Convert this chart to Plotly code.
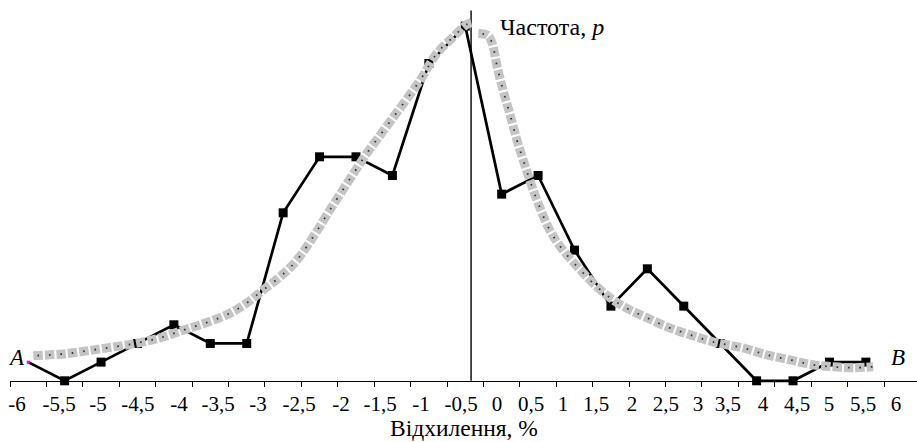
import plotly.graph_objects as go

# ---------------- data ----------------
# histogram bin centres (deviation, %)
bin_centers = [-5.75, -5.25, -4.75, -4.25, -3.75, -3.25, -2.75, -2.25, -1.75, -1.25, -0.75, -0.25,
               0.25, 0.75, 1.25, 1.75, 2.25, 2.75, 3.25, 3.75, 4.25, 4.75, 5.25, 5.75]
# observed frequencies
freq = [1, 0, 1, 2, 3, 2, 2, 9, 12, 12, 11, 17,
        19, 10, 11, 7, 4, 6, 4, 2, 0, 0, 1, 1]

# fitted (theoretical) curve, left branch
fit_left_x = [-5.68, -5.22, -4.76, -4.31, -3.94, -3.63, -3.30, -2.98, -2.75, -2.53, -2.29,
              -2.06, -1.84, -1.61, -1.37, -1.10, -0.76, -0.37, -0.14, 0.08, 0.27, 0.34]
fit_left_y = [1.34, 1.46, 1.71, 1.98, 2.30, 2.70, 3.12, 3.62, 4.17, 4.85, 5.58,
              6.47, 7.70, 9.14, 10.59, 12.19, 14.0, 16.10, 17.54, 18.40, 19.09, 19.20]
# fitted curve, right branch
fit_right_x = [0.43, 0.56, 0.62, 0.69, 0.77, 0.86, 0.96, 1.06, 1.15, 1.25, 1.41, 1.59, 1.83,
               2.06, 2.28, 2.51, 2.75, 3.02, 3.34, 3.65, 4.06, 4.39, 4.71, 5.02, 5.30, 5.57, 5.85]
fit_right_y = [18.61, 18.50, 18.07, 16.79, 15.56, 14.33, 12.89, 11.65, 10.59, 9.52, 8.07, 7.01, 5.94,
               5.03, 4.33, 3.80, 3.37, 2.89, 2.46, 2.09, 1.76, 1.39, 1.12, 0.86, 0.75, 0.70, 0.75]

# vertical reference (frequency axis)
vline_x = 0.33
vline_top = 19.84

# x axis tick marks and (hand-placed) labels
tick_vals = [-6, -5.5, -5, -4.5, -4, -3.5, -3, -2.5, -2, -1.5, -1, -0.5, 0,
             0.5, 1, 1.5, 2, 2.5, 3, 3.5, 4, 4.5, 5, 5.5, 6]
tick_labels = ["-6", "-5,5", "-5", "-4,5", "-4", "-3,5", "-3", "-2,5", "-2", "-1,5", "-1", "-0,5", "0",
               "0,5", "1", "1,5", "2", "2,5", "3", "3,5", "4", "4,5", "5", "5,5", "6"]
label_pos = [-5.904, -5.327, -4.792, -4.243, -3.680, -3.144, -2.595, -2.032, -1.456, -0.920, -0.357,
             0.192, 0.686, 1.153, 1.592, 2.045, 2.539, 3.006, 3.445, 3.857, 4.338, 4.805, 5.244, 5.711, 6.164]

FONT = "Liberation Serif"
Y_RANGE = [-0.6, 20.4]
X_RANGE = [-6, 6.452]
AX_POS = (0 - Y_RANGE[0]) / (Y_RANGE[1] - Y_RANGE[0])  # domain fraction where y = 0

fig = go.Figure()

# data subplot (x, y)
n = len(freq)
fig.add_trace(go.Scatter(
    x=bin_centers, y=freq, mode="lines+markers",
    line=dict(color="black", width=2.7),
    marker=dict(symbol="square", size=[3] + [9] * (n - 1),
                color=["#ff00ff"] + ["black"] * (n - 1),
                opacity=1, line=dict(width=0)),
    cliponaxis=False, hoverinfo="skip"))

for gx, gy in [(fit_left_x, fit_left_y), (fit_right_x, fit_right_y)]:
    fig.add_trace(go.Scatter(
        x=gx, y=gy, mode="lines",
        line=dict(color="#c4c4c4", width=9, dash="9.5px,2px", shape="spline", smoothing=1.0),
        hoverinfo="skip"))
    fig.add_trace(go.Scatter(
        x=gx, y=gy, mode="lines",
        line=dict(color="#333333", width=1.8, dash="0px,4px,1.6px,5.9px", shape="spline", smoothing=1.0),
        hoverinfo="skip"))

# invisible traces carrying the axis subplot (x3/y2) and its label axis (x4)
fig.add_trace(go.Scatter(x=[tick_vals[0]], y=[0], xaxis="x3", yaxis="y2", mode="markers",
                         marker=dict(opacity=0), hoverinfo="skip"))
fig.add_trace(go.Scatter(x=[label_pos[0]], y=[0], xaxis="x4", yaxis="y2", mode="markers",
                         marker=dict(opacity=0), hoverinfo="skip"))

fig.add_shape(type="line", x0=vline_x, x1=vline_x, y0=0, y1=vline_top,
              xref="x", yref="y", line=dict(color="black", width=1.4), layer="below")

fig.update_layout(
    width=917, height=442,
    margin=dict(l=10, r=0, t=0, b=50, pad=0),
    plot_bgcolor="rgba(0,0,0,0)", paper_bgcolor="white",
    showlegend=False,
    font=dict(family=FONT, color="black", size=21),
    xaxis=dict(range=X_RANGE, visible=False, domain=[0, 1]),
    yaxis=dict(range=Y_RANGE, visible=False, domain=[0, 1]),
    xaxis3=dict(range=X_RANGE, anchor="y2", domain=[0, 1], automargin=False,
                showline=True, linecolor="black", linewidth=1.2,
                ticks="outside", ticklen=5, tickwidth=1, tickcolor="black",
                tickvals=tick_vals, showticklabels=False,
                showgrid=False, zeroline=False),
    xaxis4=dict(range=X_RANGE, overlaying="x3", anchor="y2", automargin=False,
                showline=False, ticks="", tickvals=label_pos, ticktext=tick_labels,
                tickfont=dict(family=FONT, size=21, color="black"),
                ticklabelstandoff=8,
                showgrid=False, zeroline=False),
    yaxis2=dict(range=[0, 1], visible=False, domain=[AX_POS, 1], anchor="x3"),
)

fig.add_annotation(text="Відхилення, %", xref="paper", yref="paper", x=0.5, y=-0.0918,
                   xanchor="center", yanchor="middle", showarrow=False,
                   font=dict(family=FONT, size=23.5, color="black"))
fig.add_annotation(text="Частота, <i>p</i>", xref="x", yref="y", x=0.70, y=18.95,
                   xanchor="left", yanchor="middle", showarrow=False,
                   font=dict(family=FONT, size=24, color="black"))
fig.add_annotation(text="<i>A</i>", xref="x", yref="y", x=-5.904, y=1.27,
                   xanchor="center", yanchor="middle", showarrow=False,
                   font=dict(family=FONT, size=23, color="black"))
fig.add_annotation(text="<i>B</i>", xref="x", yref="y", x=6.19, y=1.27,
                   xanchor="center", yanchor="middle", showarrow=False,
                   font=dict(family=FONT, size=23, color="black"))

fig.write_html("out.html", config={"displayModeBar": False},
               post_script="document.body.style.margin='0px';")
